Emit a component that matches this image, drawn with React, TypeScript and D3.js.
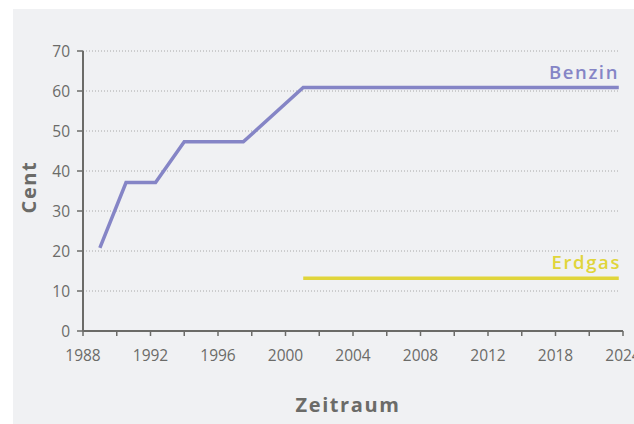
import React from "react";
import * as d3 from "d3";

const benzinYears = [1989, 1990.55, 1992.3, 1994.0, 1997.5, 2001.05, 2019.75];
const benzinValues = [20.8, 37.1, 37.1, 47.3, 47.3, 60.9, 60.9];
const erdgasYears = [2001.05, 2019.75];
const erdgasValues = [13.2, 13.2];
const yTicks = [0, 10, 20, 30, 40, 50, 60, 70];
const xTickYears = [1988, 1990, 1992, 1994, 1996, 1998, 2000, 2002, 2004, 2006, 2008, 2010, 2012, 2014, 2016, 2018, 2020];
const xLabelYears = [1988, 1992, 1996, 2000, 2004, 2008, 2012, 2016, 2020];
const xLabels = ["1988", "1992", "1996", "2000", "2004", "2008", "2012", "2018", "2024"];

const W = 634;
const H = 424;
const FONT = "'Open Sans', 'Noto Sans', sans-serif";

export default function App() {
  const x = d3.scaleLinear().domain([1988, 2020]).range([83, 623]);
  const y = d3.scaleLinear().domain([0, 70]).range([331, 51]);
  const line = d3
    .line<[number, number]>()
    .x((d) => x(d[0]))
    .y((d) => y(d[1]));
  const benzin = benzinYears.map((yr, i) => [yr, benzinValues[i]] as [number, number]);
  const erdgas = erdgasYears.map((yr, i) => [yr, erdgasValues[i]] as [number, number]);
  const axisColor = "#6b6b68";
  const textColor = "#6b6b68";
  return (
    <svg
      width={W}
      height={H}
      style={{ position: "absolute", left: 0, top: 0, display: "block" }}
      fontFamily={FONT}
    >
      <rect x={0} y={0} width={W} height={H} fill="#ffffff" />
      <rect x={13} y={9} width={W - 13} height={H - 9} fill="#f0f1f3" />
      {yTicks.filter((t) => t > 0).map((t) => (
        <line
          key={"g" + t}
          x1={x(1988)}
          x2={619}
          y1={y(t)}
          y2={y(t)}
          stroke="#a8a8a8"
          strokeWidth={1}
          strokeDasharray="1 2"
        />
      ))}
      {yTicks.map((t) => (
        <g key={"y" + t}>
          <line x1={77} x2={83} y1={y(t)} y2={y(t)} stroke={axisColor} strokeWidth={1.5} />
          <text
            x={70}
            y={y(t)}
            dy="0.36em"
            textAnchor="end"
            fontSize={15.5}
            fill={textColor}
          >
            {t}
          </text>
        </g>
      ))}
      {xTickYears.map((t) => (
        <line key={"xt" + t} x1={x(t)} x2={x(t)} y1={331} y2={336} stroke={axisColor} strokeWidth={1.5} />
      ))}
      {xLabelYears.map((t, i) => (
        <text
          key={"xl" + t}
          x={x(t)}
          y={361}
          textAnchor="middle"
          fontSize={15.5}
          fill={textColor}
        >
          {xLabels[i]}
        </text>
      ))}
      <line x1={83} x2={83} y1={y(70)} y2={331} stroke={axisColor} strokeWidth={2} />
      <line x1={83} x2={623} y1={331} y2={331} stroke={axisColor} strokeWidth={2} />
      <path d={line(benzin) || ""} fill="none" stroke="#8585c6" strokeWidth={3.5} strokeLinejoin="miter" />
      <path d={line(erdgas) || ""} fill="none" stroke="#e0d53a" strokeWidth={3.5} />
      <text
        x={619}
        y={79}
        textAnchor="end"
        fontSize={18.5}
        fontWeight={600}
        letterSpacing={1.6}
        fill="#8585c6"
      >
        Benzin
      </text>
      <text
        x={621}
        y={269}
        textAnchor="end"
        fontSize={18.5}
        fontWeight={600}
        letterSpacing={1.6}
        fill="#e0d53a"
      >
        Erdgas
      </text>
      <text
        transform={`translate(36,187) rotate(-90)`}
        textAnchor="middle"
        fontSize={20}
        fontWeight={700}
        letterSpacing={1.6}
        fill={textColor}
      >
        Cent
      </text>
      <text
        x={348}
        y={412}
        textAnchor="middle"
        fontSize={20}
        fontWeight={700}
        letterSpacing={1.6}
        fill={textColor}
      >
        Zeitraum
      </text>
    </svg>
  );
}
